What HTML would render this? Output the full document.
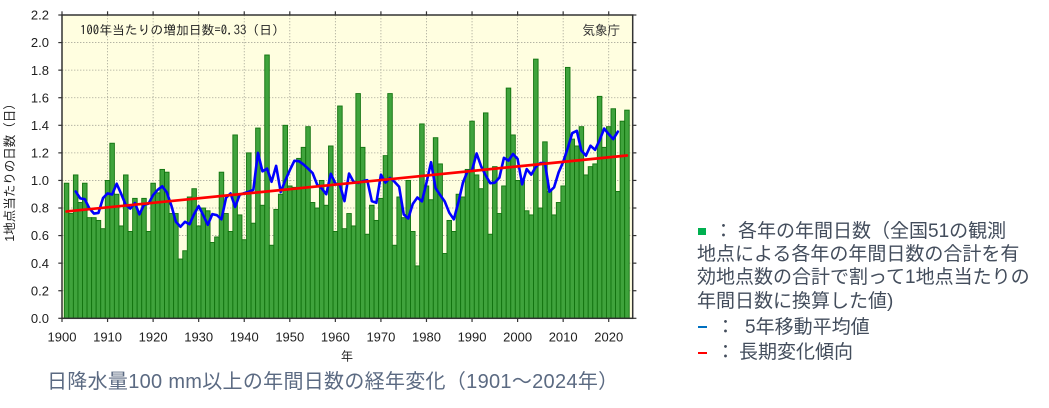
<!DOCTYPE html>
<html><head><meta charset="utf-8">
<style>
html,body{margin:0;padding:0;background:#fff;}
body{width:1049px;height:408px;overflow:hidden;position:relative;font-family:"Liberation Sans","Noto Sans CJK JP",sans-serif;}
svg{position:absolute;left:0;top:0;}
.l{position:absolute;font-size:19px;line-height:24px;height:24px;color:#434d5c;white-space:nowrap;font-family:"Liberation Sans","Noto Sans CJK JP",sans-serif;}
.cap{position:absolute;left:47px;top:368.5px;font-size:20px;letter-spacing:0.3px;line-height:26px;color:#5b6a82;white-space:nowrap;font-family:"Liberation Sans","Noto Sans CJK JP",sans-serif;}
.sq{position:absolute;left:698px;top:227.5px;width:7.5px;height:7.5px;background:#00b050;}
.dash{position:absolute;left:698px;width:9px;height:2.6px;}
</style></head>
<body>
<svg id="c" width="1049" height="408" xmlns="http://www.w3.org/2000/svg">
<rect x="62" y="15" width="570.7" height="303.3" fill="#fffee0"/>
<g id="grid" stroke="#a9a99a" stroke-width="0.8" stroke-dasharray="1.4 1.6" fill="none"></g>
<g id="bars" fill="#3fa33c" stroke="#12730f" stroke-width="0.9"></g>
<polyline id="ma" fill="none" stroke="#0000ff" stroke-width="2.6" stroke-linejoin="round" stroke-linecap="round" points=""/>
<line x1="66.56" y1="211.46" x2="626.94" y2="155.49" stroke="#ff0000" stroke-width="2.7" stroke-linecap="round"/>
<rect x="62" y="15" width="570.7" height="303.3" fill="none" stroke="#333" stroke-width="1.5"/>
<g id="ticks" stroke="#333" stroke-width="1.2"></g>
<g id="lab" font-family="Liberation Sans, sans-serif" font-size="13" fill="#1e1e1e"></g>
<text x="80" y="34.5" font-family="IPAGothic, Noto Sans CJK JP, monospace" font-size="12.8" fill="#222">100年当たりの増加日数=0.33（日）</text>
<text x="620" y="34.5" text-anchor="end" font-family="Noto Sans CJK JP, IPAGothic, sans-serif" font-size="12.5" fill="#333">気象庁</text>
<text x="347" y="360.5" text-anchor="middle" font-family="Noto Sans CJK JP, sans-serif" font-size="12" fill="#222">年</text>
<text transform="translate(14,169.5) rotate(-90)" text-anchor="middle" font-family="Liberation Sans, Noto Sans CJK JP, sans-serif" font-size="12.5" fill="#222">1地点当たりの日数（日）</text>
</svg>

<div class="sq"></div>
<div class="l" style="left:714px;top:219.5px;">：</div>
<div class="l" style="left:738px;top:219.5px;">各年の年間日数（全国51の観測</div>
<div class="l" style="left:697px;top:243px;">地点による各年の年間日数の合計を有</div>
<div class="l" style="left:697px;top:265.5px;">効地点数の合計で割って1地点当たりの</div>
<div class="l" style="left:697px;top:290px;">年間日数に換算した値)</div>
<div class="dash" style="top:325.5px;background:#0070c0;"></div>
<div class="l" style="left:716px;top:316px;">：</div>
<div class="l" style="left:745px;top:316px;">5年移動平均値</div>
<div class="dash" style="top:351.5px;background:#ff0000;"></div>
<div class="l" style="left:716px;top:341px;">：</div>
<div class="l" style="left:739px;top:341px;">長期変化傾向</div>

<div class="cap">日降水量100 mm以上の年間日数の経年変化（1901～2024年）</div>

<script>
(function(){
var d=[0.98,0.76,1.04,0.84,0.98,0.73,0.73,0.71,0.65,1.00,
1.27,0.90,0.67,1.04,0.63,0.87,0.77,0.87,0.63,0.98,
0.91,1.08,1.06,0.76,0.76,0.43,0.49,0.88,0.94,0.67,
0.80,0.78,0.55,0.59,1.06,0.76,0.63,1.33,0.75,0.57,
1.20,0.69,1.38,0.82,1.91,0.53,0.79,0.90,1.40,0.96,
0.95,1.16,1.24,1.39,0.84,0.80,1.00,0.82,1.25,0.63,
1.54,0.65,0.76,0.67,1.63,1.24,0.61,0.82,0.71,0.87,
1.18,1.63,0.53,0.88,0.73,1.00,0.63,0.38,1.41,0.96,
0.86,1.31,1.12,0.47,0.71,0.63,0.90,0.88,1.08,1.43,
1.04,0.94,1.49,0.61,1.10,0.76,0.96,1.67,1.33,1.00,
1.00,0.78,0.75,1.88,0.80,1.28,0.92,0.75,0.84,0.96,
1.82,1.30,1.25,1.39,1.04,1.10,1.12,1.61,1.24,1.39,
1.52,0.92,1.43,1.51];
var PX=4.556;
function X(y){return 62+(y-1900)*PX;}
function Y(v){return 318.3-v*137.86;}
var g='',i,v;
for(i=1;i<=10;i++){v=i*0.2;g+='<line x1="62" x2="632.7" y1="'+Y(v).toFixed(2)+'" y2="'+Y(v).toFixed(2)+'"/>';}
for(i=1910;i<=2020;i+=10){g+='<line y1="15" y2="318.3" x1="'+X(i).toFixed(2)+'" x2="'+X(i).toFixed(2)+'"/>';}
document.getElementById('grid').innerHTML=g;
var b='';
for(i=0;i<d.length;i++){var yr=1901+i;var x0=X(yr-0.5);var yt=Y(d[i]);
b+='<rect x="'+x0.toFixed(2)+'" y="'+yt.toFixed(2)+'" width="'+PX.toFixed(3)+'" height="'+(318.3-yt).toFixed(2)+'"/>';}
document.getElementById('bars').innerHTML=b;
var p=[];
for(i=2;i<d.length-2;i++){var s=(d[i-2]+d[i-1]+d[i]+d[i+1]+d[i+2])/5;p.push(X(1901+i).toFixed(2)+','+Y(s).toFixed(2));}
document.getElementById('ma').setAttribute('points',p.join(' '));
var t='';
for(i=1900;i<=2020;i+=10){var x=X(i).toFixed(2);t+='<line x1="'+x+'" x2="'+x+'" y1="15" y2="11.3"/><line x1="'+x+'" x2="'+x+'" y1="318.3" y2="322"/>';}
for(i=0;i<=11;i++){var y=Y(i*0.2).toFixed(2);t+='<line x1="62" x2="58.3" y1="'+y+'" y2="'+y+'"/><line x1="632.7" x2="636.4" y1="'+y+'" y2="'+y+'"/>';}
document.getElementById('ticks').innerHTML=t;
var l='';
for(i=0;i<=11;i++){l+='<text x="49" y="'+(Y(i*0.2)+4.6).toFixed(2)+'" text-anchor="end">'+(i*0.2).toFixed(1)+'</text>';}
for(i=1900;i<=2020;i+=10){l+='<text x="'+X(i).toFixed(2)+'" y="341.5" text-anchor="middle">'+i+'</text>';}
document.getElementById('lab').innerHTML=l;
})();
</script>
</body></html>
